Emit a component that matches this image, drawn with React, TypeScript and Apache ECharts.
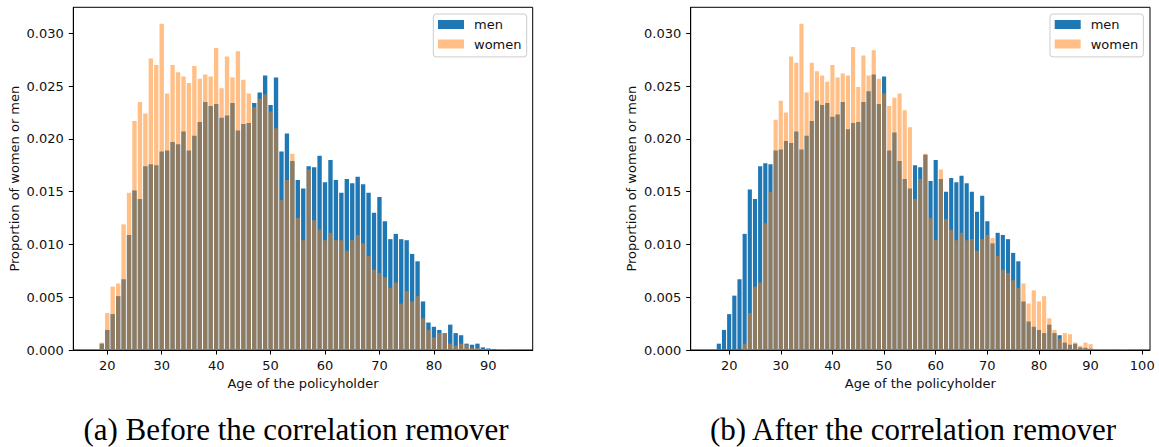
import React, { useEffect, useRef } from "react";
import * as echarts from "echarts";

// ---------- Data: (a) before the correlation remover ----------
const agesBefore = [
  18, 19, 20, 21, 22, 23, 24, 25, 26, 27, 28, 29, 30, 31, 32, 33, 34, 35, 36, 37,
  38, 39, 40, 41, 42, 43, 44, 45, 46, 47, 48, 49, 50, 51, 52, 53, 54, 55, 56, 57,
  58, 59, 60, 61, 62, 63, 64, 65, 66, 67, 68, 69, 70, 71, 72, 73, 74, 75, 76, 77,
  78, 79, 80, 81, 82, 83, 84, 85, 86, 87, 88, 89, 90, 91, 92, 93, 94,
];
const menBefore = [
  0, 0.0006, 0.0019, 0.0034, 0.0051, 0.0067, 0.0109, 0.0151, 0.0143, 0.0174,
  0.0176, 0.0175, 0.0188, 0.0189, 0.0197, 0.0195, 0.0207, 0.0189, 0.0203, 0.0216,
  0.0235, 0.0231, 0.0233, 0.022, 0.0222, 0.0234, 0.0208, 0.0214, 0.0215, 0.0234,
  0.0244, 0.026, 0.0232, 0.0258, 0.0188, 0.0205, 0.0179, 0.0161, 0.0153, 0.0174,
  0.0173, 0.0184, 0.0159, 0.018, 0.0161, 0.0149, 0.0162, 0.0158, 0.0164, 0.0157,
  0.0149, 0.013, 0.0145, 0.0122, 0.0105, 0.011, 0.0105, 0.0104, 0.0091, 0.0084,
  0.0046, 0.0026, 0.0022, 0.0019, 0.0016, 0.0024, 0.0016, 0.0014, 0.0006, 0.0005,
  0.0006, 0.00025, 0.00015, 0.0001, 0.00003, 0, 0,
];
const womenBefore = [
  0, 0.0007, 0.0035, 0.006, 0.0063, 0.0119, 0.0149, 0.0217, 0.0235, 0.0224,
  0.0276, 0.027, 0.0309, 0.0243, 0.027, 0.0263, 0.0259, 0.0253, 0.0269, 0.0257,
  0.0261, 0.0259, 0.0286, 0.0248, 0.0278, 0.0258, 0.0283, 0.0256, 0.0243, 0.0230,
  0.0238, 0.0242, 0.0226, 0.021, 0.0142, 0.0161, 0.0186, 0.0125, 0.0104, 0.0171,
  0.0123, 0.0114, 0.0104, 0.0111, 0.0104, 0.0104, 0.0094, 0.0104, 0.0109, 0.0101,
  0.0089, 0.0076, 0.0073, 0.0069, 0.0059, 0.0064, 0.0044, 0.0056, 0.0046, 0.0051,
  0.003, 0.0019, 0.0012, 0.0016, 0.0016, 0.0006, 0.0004, 0.0006, 0.0005, 0.0002,
  0.0002, 0.0001, 0.0001, 0.00005, 0.00008, 0.00008, 0,
];

// ---------- Data: (b) after the correlation remover ----------
const agesAfter = [
  17, 18, 19, 20, 21, 22, 23, 24, 25, 26, 27, 28, 29, 30, 31, 32, 33, 34, 35, 36,
  37, 38, 39, 40, 41, 42, 43, 44, 45, 46, 47, 48, 49, 50, 51, 52, 53, 54, 55, 56,
  57, 58, 59, 60, 61, 62, 63, 64, 65, 66, 67, 68, 69, 70, 71, 72, 73, 74, 75, 76,
  77, 78, 79, 80, 81, 82, 83, 84, 85, 86, 87, 88, 89, 90, 91, 92, 93, 94, 95, 96,
  97,
];
const menAfter = [
  0, 0.0006, 0.0019, 0.0034, 0.00515, 0.0067, 0.011, 0.0152, 0.0143, 0.0174,
  0.0177, 0.0176, 0.0189, 0.019, 0.0198, 0.0196, 0.0207, 0.019, 0.0203, 0.0217,
  0.0236, 0.0232, 0.0234, 0.0221, 0.0223, 0.0235, 0.0209, 0.0215, 0.0216, 0.0235,
  0.0245, 0.0261, 0.0233, 0.0259, 0.0189, 0.0206, 0.0179, 0.0162, 0.0153, 0.0175,
  0.0173, 0.0185, 0.016, 0.018, 0.0162, 0.015, 0.0163, 0.0159, 0.0165, 0.0158,
  0.015, 0.0131, 0.0146, 0.0122, 0.0101, 0.0111, 0.0109, 0.0105, 0.0092, 0.0084,
  0.0046, 0.0027, 0.0022, 0.0019, 0.0016, 0.0024, 0.0016, 0.0014, 0.0007, 0.0005,
  0.0006, 0.00025, 0.0002, 0.00013, 0.00005, 0, 0, 0, 0, 0,
  0,
];
const womenAfter = [
  0, 0, 0, 0, 0, 0, 0.0006, 0.0035, 0.006, 0.0064,
  0.012, 0.015, 0.0218, 0.0236, 0.0225, 0.0278, 0.0272, 0.0309, 0.0244, 0.0272,
  0.0264, 0.026, 0.0254, 0.027, 0.0258, 0.0262, 0.026, 0.0287, 0.0249, 0.0279,
  0.026, 0.0284, 0.0257, 0.0243, 0.0231, 0.0239, 0.0243, 0.0227, 0.0211, 0.0143,
  0.0162, 0.0186, 0.0125, 0.0104, 0.0171, 0.0124, 0.0114, 0.0104, 0.0111, 0.0104,
  0.0105, 0.0094, 0.0105, 0.0109, 0.0106, 0.0089, 0.0076, 0.0073, 0.0066, 0.0059,
  0.0063, 0.0044, 0.00565, 0.0046, 0.0051, 0.003, 0.0019, 0.0011, 0.0016, 0.0015,
  0.0007, 0.0004, 0.0007, 0.00055, 0.0001, 0.0001, 0.0001, 0.00005, 0, 0.00008,
  0.00008,
];

const xTicksBefore = [20, 30, 40, 50, 60, 70, 80, 90];
const xTicksAfter = [20, 30, 40, 50, 60, 70, 80, 90, 100];
const yTicks = [0, 0.005, 0.01, 0.015, 0.02, 0.025, 0.03];
const seriesNames = ["men", "women"];
const xTitle = "Age of the policyholder";
const yTitle = "Proportion of women or men";
const captions = ["(a) Before the correlation remover", "(b) After the correlation remover"];

const BLUE = "#1f77b4";
const ORANGE = "rgba(255,127,14,0.5)";
const FONT = "DejaVu Sans";
const TXT = "#111";

export default function App() {
  const ref = useRef<HTMLDivElement>(null);

  useEffect(() => {
    if (!ref.current) return;
    const chart = echarts.init(ref.current, undefined, { renderer: "svg" });

    const grids = [
      { left: 73.3, top: 7.3, width: 459.4, height: 342.7 },
      { left: 690.7, top: 7.3, width: 459.3, height: 342.7 },
    ];

    const makeX = (idx: number, min: number, max: number, ticks: number[]) => ({
      type: "value",
      gridIndex: idx,
      min,
      max,
      name: xTitle,
      nameLocation: "middle",
      nameGap: 24.7,
      nameTextStyle: { fontFamily: FONT, fontSize: 13, color: TXT },
      axisLine: { show: true, lineStyle: { color: "#000", width: 1 } },
      axisTick: { show: true, length: 4.5, customValues: ticks, lineStyle: { color: "#000", width: 1 } },
      axisLabel: {
        show: true,
        customValues: ticks,
        margin: 9,
        fontFamily: FONT,
        fontSize: 13,
        color: TXT,
        formatter: (v: number) => String(v),
      },
      splitLine: { show: false },
    });

    const makeY = (idx: number) => ({
      type: "value",
      gridIndex: idx,
      min: 0,
      max: 0.03246,
      name: yTitle,
      nameLocation: "middle",
      nameGap: 52.3,
      nameTextStyle: { fontFamily: FONT, fontSize: 13, color: TXT },
      axisLine: { show: true, lineStyle: { color: "#000", width: 1 } },
      axisTick: { show: true, length: 4.5, customValues: yTicks, lineStyle: { color: "#000", width: 1 } },
      axisLabel: {
        show: true,
        customValues: yTicks,
        margin: 9.5,
        fontFamily: FONT,
        fontSize: 13,
        color: TXT,
        formatter: (v: number) => v.toFixed(3),
      },
      splitLine: { show: false },
    });

    const makeBar = (idx: number, name: string, ages: number[], vals: number[], color: string) => ({
      type: "bar",
      name,
      xAxisIndex: idx,
      yAxisIndex: idx,
      data: ages.map((a, i) => [a, vals[i]]),
      barWidth: "80%",
      barGap: "-100%",
      itemStyle: { color },
      silent: true,
      emphasis: { disabled: true },
    });

    const makeLegend = (left: number) => ({
      left,
      top: 14,
      orient: "vertical",
      data: seriesNames,
      icon: "rect",
      itemWidth: 26,
      itemHeight: 9,
      itemGap: 6.5,
      padding: [4, 5.2, 6.4, 4.7],
      borderColor: "#cccccc",
      borderWidth: 1,
      borderRadius: 3,
      backgroundColor: "rgba(255,255,255,0.8)",
      selectedMode: false,
      textStyle: {
        fontFamily: FONT,
        fontSize: 13,
        color: TXT,
        lineHeight: 13,
        padding: [0, 0, 0, 5],
      },
    });

    chart.setOption({
      animation: false,
      backgroundColor: "#fff",
      grid: grids.map((g) => ({
        ...g,
        show: true,
        borderColor: "#000",
        borderWidth: 1,
        backgroundColor: "transparent",
        containLabel: false,
        outerBoundsMode: "none",
      })),
      xAxis: [
        makeX(0, 13.76, 98.15, xTicksBefore),
        makeX(1, 12.55, 101.5, xTicksAfter),
      ],
      yAxis: [makeY(0), makeY(1)],
      legend: [makeLegend(433.3), makeLegend(1050)],
      series: [
        makeBar(0, seriesNames[0], agesBefore, menBefore, BLUE),
        makeBar(0, seriesNames[1], agesBefore, womenBefore, ORANGE),
        makeBar(1, seriesNames[0], agesAfter, menAfter, BLUE),
        makeBar(1, seriesNames[1], agesAfter, womenAfter, ORANGE),
      ],
      graphic: [
        {
          type: "text",
          x: 296,
          y: 429.5,
          silent: true,
          style: {
            text: captions[0],
            align: "center",
            verticalAlign: "middle",
            fontFamily: "Liberation Serif",
            fontSize: 31,
            fill: "#000",
          },
        },
        {
          type: "text",
          x: 913,
          y: 429.5,
          silent: true,
          style: {
            text: captions[1],
            align: "center",
            verticalAlign: "middle",
            fontFamily: "Liberation Serif",
            fontSize: 31,
            fill: "#000",
          },
        },
      ],
    });

    return () => {
      chart.dispose();
    };
  }, []);

  return (
    <div
      ref={ref}
      style={{ position: "absolute", left: 0, top: 0, width: 1159, height: 447, background: "#fff" }}
    />
  );
}
